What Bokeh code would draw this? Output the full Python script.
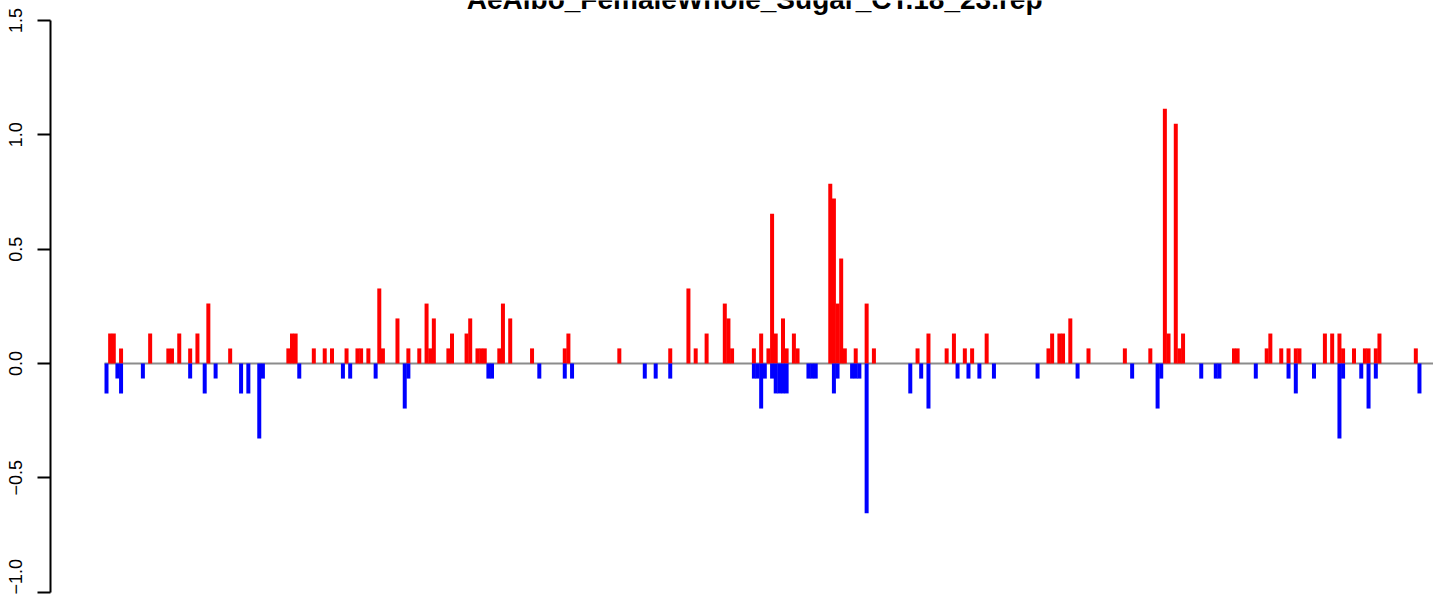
from bokeh.plotting import figure
from bokeh.models import Range1d, FixedTicker, Label
from bokeh.embed import file_html
from bokeh.resources import INLINE

TITLE = "AeAlbo_FemaleWhole_Sugar_CT.18_23.rep"

# bin index of each positive (red) bar and its value
up_pos = [1, 2, 4, 12, 17, 18, 20, 23, 25, 28, 34, 50, 51, 52, 57, 60, 62, 66, 69, 70,
          72, 75, 76, 80, 83, 86, 88, 89, 90, 94, 95, 99, 100, 102, 103, 104, 108, 109, 111, 117,
          126, 127, 141, 155, 160, 162, 165, 170, 171, 172, 178, 180, 182, 183, 184, 186, 187, 189, 190, 199,
          200, 201, 202, 203, 206, 209, 211, 223, 226, 231, 233, 236, 238, 242, 259, 260, 262, 263, 265, 270,
          280, 287, 291, 292, 294, 295, 296, 310, 311, 319, 320, 323, 325, 327, 328, 335, 337, 339, 340, 343,
          346, 347, 349, 350, 360]
up_val = [0.131, 0.131, 0.066, 0.131, 0.066, 0.066, 0.131, 0.066, 0.131, 0.262, 0.066, 0.066, 0.131, 0.131, 0.066, 0.066, 0.066, 0.066, 0.066, 0.066,
          0.066, 0.328, 0.066, 0.197, 0.066, 0.066, 0.262, 0.066, 0.197, 0.066, 0.131, 0.131, 0.197, 0.066, 0.066, 0.066, 0.066, 0.262, 0.197, 0.066,
          0.066, 0.131, 0.066, 0.066, 0.328, 0.066, 0.131, 0.262, 0.197, 0.066, 0.066, 0.131, 0.066, 0.655, 0.131, 0.197, 0.066, 0.131, 0.066, 0.786,
          0.721, 0.262, 0.459, 0.066, 0.066, 0.262, 0.066, 0.066, 0.131, 0.066, 0.131, 0.066, 0.066, 0.131, 0.066, 0.131, 0.131, 0.131, 0.197, 0.066,
          0.066, 0.066, 1.114, 0.131, 1.048, 0.066, 0.131, 0.066, 0.066, 0.066, 0.131, 0.066, 0.066, 0.066, 0.066, 0.131, 0.131, 0.131, 0.066, 0.066,
          0.066, 0.066, 0.066, 0.131, 0.066]

# bin index of each negative (blue) bar and its value
down_pos = [0, 3, 4, 10, 23, 27, 30, 37, 39, 42, 43, 53, 65, 67, 74, 82, 83, 105, 106, 119,
            126, 128, 148, 151, 155, 178, 179, 180, 181, 183, 184, 185, 186, 187, 193, 194, 195, 200, 201, 205,
            206, 207, 209, 221, 224, 226, 234, 237, 240, 244, 256, 267, 282, 289, 290, 301, 305, 306, 316, 325,
            327, 332, 339, 340, 345, 347, 349, 361]
down_val = [-0.131, -0.066, -0.131, -0.066, -0.066, -0.131, -0.066, -0.131, -0.131, -0.328, -0.066, -0.066, -0.066, -0.066, -0.066, -0.197, -0.066, -0.066, -0.066, -0.066,
            -0.066, -0.066, -0.066, -0.066, -0.066, -0.066, -0.066, -0.197, -0.066, -0.066, -0.131, -0.131, -0.131, -0.131, -0.066, -0.066, -0.066, -0.131, -0.066, -0.066,
            -0.066, -0.066, -0.655, -0.131, -0.066, -0.197, -0.066, -0.066, -0.066, -0.066, -0.066, -0.066, -0.066, -0.197, -0.066, -0.066, -0.066, -0.066, -0.066, -0.066,
            -0.131, -0.066, -0.328, -0.066, -0.066, -0.197, -0.066, -0.131]

y_ticks = [-1.0, -0.5, 0.0, 0.5, 1.0, 1.5]
y_tick_labels = ["\u22121.0", "\u22120.5", "0.0", "0.5", "1.0", "1.5"]

BAR_W = 1.1
x_rng = Range1d(-15.40, 364.86)
y_rng = Range1d(-1.0101, 1.5872)

p = figure(width=1433, height=594, output_backend="svg", toolbar_location=None,
           x_axis_type=None, x_range=x_rng, y_range=y_rng,
           min_border_left=50, min_border_right=0, min_border_top=0, min_border_bottom=0)
p.outline_line_color = None
p.ygrid.grid_line_color = None
p.background_fill_color = "white"
p.border_fill_color = "white"

# zero baseline from the first bar to the right edge
x_first = min(min(up_pos), min(down_pos)) - BAR_W / 2
p.segment(x0=[x_first], y0=[0], x1=[x_rng.end], y1=[0], line_color="#8c8c8c", line_width=2)

p.vbar(x=up_pos, top=up_val, bottom=0, width=BAR_W, fill_color="#FF0000", line_color=None)
p.vbar(x=down_pos, top=down_val, bottom=0, width=BAR_W, fill_color="#0000FF", line_color=None)

ax = p.yaxis[0]
ax.ticker = FixedTicker(ticks=y_ticks)
ax.major_label_overrides = {t: l for t, l in zip(y_ticks, y_tick_labels)}
ax.bounds = (-1.0, 1.5)
ax.axis_line_width = 2
ax.axis_line_color = "black"
ax.major_tick_line_width = 2
ax.major_tick_line_color = "black"
ax.major_tick_out = 13
ax.major_tick_in = 0
ax.minor_tick_out = 0
ax.minor_tick_in = 0
ax.major_label_orientation = "parallel"
ax.major_label_text_font = "Liberation Sans"
ax.major_label_text_font_size = "18px"
ax.major_label_text_color = "black"
ax.major_label_standoff = 15

# title sits partly above the top edge, as in the reference
title = Label(x=178.2, y=1.590, text=TITLE, text_align="center", text_baseline="alphabetic",
              text_font="Liberation Sans", text_font_style="bold", text_font_size="28px",
              text_color="black")
p.add_layout(title)

open("out.html", "w").write(file_html(p, INLINE))
